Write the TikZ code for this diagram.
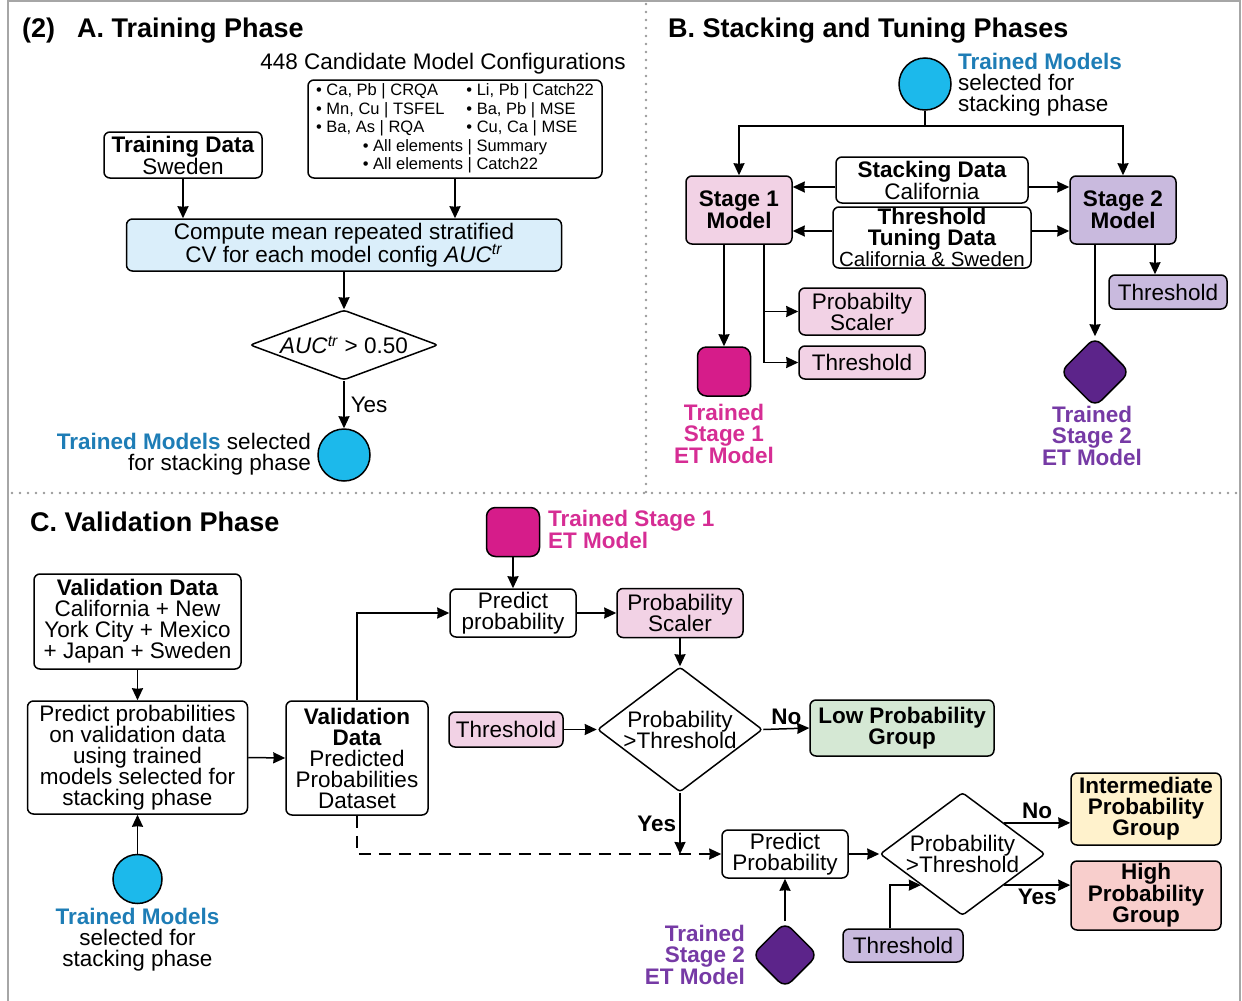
\documentclass[tikz,border=0pt]{standalone}
\usepackage{fontspec}
\setmainfont{Liberation Sans}
\usetikzlibrary{shapes.geometric,arrows.meta}
\definecolor{tmcyan}{RGB}{28,185,235}
\definecolor{tmblue}{RGB}{30,125,182}
\definecolor{s1pink}{RGB}{242,210,229}
\definecolor{s2lav}{RGB}{201,186,222}
\definecolor{etmag}{RGB}{214,28,138}
\definecolor{etmagt}{RGB}{214,45,148}
\definecolor{etpur}{RGB}{92,36,138}
\definecolor{etpurt}{RGB}{118,58,165}
\definecolor{cvblue}{RGB}{218,238,250}
\definecolor{lowgr}{RGB}{213,232,212}
\definecolor{midye}{RGB}{255,242,204}
\definecolor{highrd}{RGB}{248,206,204}

\begin{document}
\begin{tikzpicture}[x=1pt,y=-1pt,
		box/.style={draw, line width=1.5pt, rounded corners=6pt, align=center, inner sep=0pt, font=\fontsize{22.5}{21}\selectfont},
		bbox/.style={box, font=\fontsize{22.5}{21}\selectfont\bfseries},
		dec/.style={draw, diamond, line width=1.5pt, rounded corners=3pt, align=center, inner sep=0pt, font=\fontsize{22.5}{21}\selectfont},
		lbl/.style={align=center, inner sep=0pt, font=\fontsize{22.5}{21}\selectfont},
		blbl/.style={lbl, font=\fontsize{22.5}{21}\selectfont\bfseries},
		ttl/.style={anchor=west, inner sep=0pt, font=\fontsize{27}{30}\selectfont\bfseries},
		tm/.style={draw, circle, line width=1.5pt, fill=tmcyan, minimum size=52pt, inner sep=0pt},
		etone/.style={draw, line width=1.5pt, rounded corners=9pt, fill=etmag, minimum width=53pt, minimum height=49pt, inner sep=0pt},
		ettwo/.style={draw, diamond, line width=1.5pt, rounded corners=9pt, fill=etpur, minimum size=70pt, inner sep=0pt},
		arr/.style={-{Stealth[length=12pt,width=11pt,inset=0.5pt]}, line width=1.5pt},
		yn/.style={font=\fontsize{22.5}{21}\selectfont\bfseries, inner sep=3pt},
		sep/.style={draw=gray!80, line width=2.6pt, line cap=round, dash pattern=on 0pt off 8pt}]
	\useasboundingbox (0,0) rectangle (1242,1001);
	\draw[gray!70, line width=1.5pt] (8,1001) -- (8,1) -- (1240,1) -- (1240,1001);
	\draw[sep] (646,4) -- (646,493);
	\draw[sep] (12,493) -- (1236,493);

	\node[ttl] (ttlA) at (22,31) {(2)\hspace{22pt}A. Training Phase};
	\node[lbl] (cand) at (443,64) {448 Candidate Model Configurations};
	\node[box, minimum width=294pt, minimum height=98pt, font=\fontsize{16.5}{18.5}\selectfont] (cfg) at (455,129) {\begin{tabular}{@{}l@{\hspace{22pt}}l@{}}
			• Ca, Pb | CRQA & • Li, Pb | Catch22\\
			• Mn, Cu | TSFEL & • Ba, Pb | MSE\\
			• Ba, As | RQA & • Cu, Ca | MSE\\
			\multicolumn{2}{c}{\begin{tabular}[t]{@{}l@{}}• All elements | Summary\\• All elements | Catch22\end{tabular}}
		\end{tabular}};
	\node[box, minimum width=158pt, minimum height=46pt] (train) at (183,155) {\textbf{Training Data}\\Sweden};
	\node[box, fill=cvblue, minimum width=435pt, minimum height=52pt] (comp) at (344,245) {Compute mean repeated stratified\\CV for each model config \textit{AUC}\textsuperscript{\textit{tr}}};
	\node[dec, aspect=2.7, minimum width=188pt, minimum height=70pt] (chk) at (344,345) {\textit{AUC}\textsuperscript{\textit{tr}} > 0.50};
	\node[tm] (tmA) at (344,455) {};
	\node[lbl, align=right, anchor=east] (tmAl) at (311,454) {\textcolor{tmblue}{\textbf{Trained Models}} selected\\for stacking phase};
	\path[arr] (train.south) edge (train.south |- comp.north)
		(cfg.south) edge (cfg.south |- comp.north)
		(comp.south) edge (chk.north)
		(chk.south) edge node[lbl, right, xshift=6pt] {Yes} (tmA.north);

	\node[ttl] (ttlB) at (668,31) {B. Stacking and Tuning Phases};
	\node[tm] (tmB) at (925,84) {};
	\node[lbl, align=left, anchor=north west] (tmBl) at (958,53) {\textcolor{tmblue}{\textbf{Trained Models}}\\selected for\\stacking phase};
	\coordinate (brB) at (925,126);
	\node[bbox, fill=s1pink, minimum width=106pt, minimum height=68pt] (st1) at (739,210) {Stage 1\\Model};
	\node[bbox, fill=s2lav, minimum width=106pt, minimum height=68pt] (st2) at (1123,210) {Stage 2\\Model};
	\node[box, minimum width=192pt, minimum height=46pt] (stk) at (932,180) {\textbf{Stacking Data}\\California};
	\node[box, minimum width=198pt, minimum height=61pt] (tune) at (932,237.5) {\textbf{Threshold}\\\textbf{Tuning Data}\\{\fontsize{20.5}{21}\selectfont California \& Sweden}};
	\node[box, fill=s1pink, minimum width=126pt, minimum height=47pt] (psB) at (862,311.5) {Probabilty\\Scaler};
	\node[box, fill=s1pink, minimum width=126pt, minimum height=33pt] (thB) at (862,362.5) {Threshold};
	\node[etone] (et1B) at (724,371.5) {};
	\node[blbl, anchor=north, text=etmagt] (et1Bl) at (724,404) {Trained\\Stage 1\\ET Model};
	\node[ettwo] (et2B) at (1095,372) {};
	\node[blbl, anchor=north, text=etpurt] (et2Bl) at (1092,406) {Trained\\Stage 2\\ET Model};
	\node[box, fill=s2lav, minimum width=118pt, minimum height=34pt] (thB2) at (1168,292) {Threshold};
	\coordinate (stkw) at ([yshift=-7pt]stk.west);
	\coordinate (stke) at ([yshift=-7pt]stk.east);
	\coordinate (tunew) at ([yshift=6.5pt]tune.west);
	\coordinate (tunee) at ([yshift=6.5pt]tune.east);
	\coordinate (s1r) at ([xshift=25pt]st1.south);
	\coordinate (s2r) at ([xshift=32pt]st2.south);
	\draw[arr] (tmB.south) -- (brB) -| (st1.north);
	\draw[arr] (brB) -| (st2.north);
	\path[arr] (stkw) edge (stkw -| st1.east)
		(stke) edge (stke -| st2.west)
		(tunew) edge (tunew -| st1.east)
		(tunee) edge (tunee -| st2.west)
		(et1B.north |- st1.south) edge (et1B.north)
		(et2B.north |- st2.south) edge (et2B.north)
		(s2r) edge (s2r |- thB2.north);
	\draw[arr] (s1r) |- (psB.west);
	\draw[arr] (s1r) |- (thB.west);

	\node[ttl] (ttlC) at (30,522) {C. Validation Phase};
	\node[box, minimum width=207pt, minimum height=95pt] (vd) at (137.5,621.5) {\textbf{Validation Data}\\California + New\\York City + Mexico\\+ Japan + Sweden};
	\node[box, minimum width=220pt, minimum height=113pt] (pp) at (137.5,757.5) {Predict probabilities\\on validation data\\using trained\\models selected for\\stacking phase};
	\node[tm, minimum size=49pt] (tmC) at (137.5,879) {};
	\node[lbl, anchor=north] (tmCl) at (137.5,908) {\textcolor{tmblue}{\textbf{Trained Models}}\\selected for\\stacking phase};
	\node[box, minimum width=142pt, minimum height=114pt] (vdp) at (357,758) {\textbf{Validation}\\\textbf{Data}\\Predicted\\Probabilities\\Dataset};
	\node[etone] (et1C) at (513,532) {};
	\node[blbl, anchor=west, align=left, text=etmagt] (et1Cl) at (548,529.5) {Trained Stage 1\\ET Model};
	\node[box, minimum width=126pt, minimum height=48pt] (pr1) at (513,613) {Predict\\probability};
	\node[box, fill=s1pink, minimum width=126pt, minimum height=49pt] (psC) at (680,613) {Probability\\Scaler};
	\node[box, fill=s1pink, minimum width=114pt, minimum height=35pt] (thC) at (506,729.5) {Threshold};
	\node[dec, aspect=1.32, minimum width=165pt, minimum height=125pt] (d1) at (680,729.5) {Probability\\>Threshold};
	\node[bbox, fill=lowgr, minimum width=184pt, minimum height=56pt] (low) at (902,728) {Low Probability\\Group};
	\node[box, minimum width=126pt, minimum height=48pt] (pr2) at (785,854) {Predict\\Probability};
	\node[dec, aspect=1.34, minimum width=165pt, minimum height=123pt] (d2) at (962.5,854) {Probability\\>Threshold};
	\node[bbox, fill=midye, minimum width=150pt, minimum height=72pt] (mid) at (1146,809) {Intermediate\\Probability\\Group};
	\node[bbox, fill=highrd, minimum width=150pt, minimum height=69pt] (high) at (1146,895.5) {High\\Probability\\Group};
	\node[box, fill=s2lav, minimum width=120pt, minimum height=33pt] (thC2) at (903,945.5) {Threshold};
	\node[ettwo, minimum size=66pt] (et2C) at (785,955) {};
	\node[blbl, anchor=east, align=right, text=etpurt] (et2Cl) at (745,955) {Trained\\Stage 2\\ET Model};
	\path[arr] (vd.south) edge (pp.north)
		(tmC.north) edge (pp.south)
		(pp.east) edge (vdp.west)
		(et1C.south) edge (pr1.north)
		(pr1.east) edge (psC.west)
		(psC.south) edge (d1.north)
		(thC.east) edge (d1.west)
		(d1.east) edge node[yn, above] {No} (low.west)
		(pr2.east) edge (d2.west)
		(et2C.north) edge (pr2.south);
	\draw[arr] (vdp.north) |- (pr1.west);
	\draw[arr, dash pattern=on 12pt off 8pt] (vdp.south) |- (pr2.west);
	\draw[arr] (d1.south) -- (d1.south |- pr2.west) node[yn, midway, left] {Yes};
	\draw[arr] (d2.north east) -- (d2.north east -| mid.west) node[yn, midway, above] {No};
	\draw[arr] (d2.south east) -- (d2.south east -| high.west) node[yn, midway, below] {Yes};
	\draw[arr] ([xshift=-13pt]thC2.north) |- (d2.south west);
\end{tikzpicture}
\end{document}
